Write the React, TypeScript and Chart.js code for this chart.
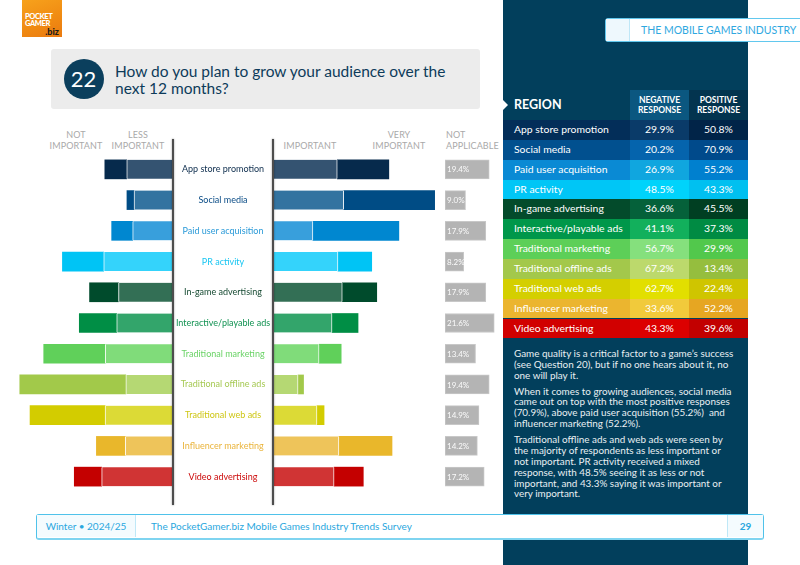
import React, { useEffect, useRef } from "react";
import { Chart, registerables } from "chart.js";

Chart.register(...registerables);

// ---- survey data (percent of respondents) ----
const CATEGORIES = [
  "App store promotion",
  "Social media",
  "Paid user acquisition",
  "PR activity",
  "In-game advertising",
  "Interactive/playable ads",
  "Traditional marketing",
  "Traditional offline ads",
  "Traditional web ads",
  "Influencer marketing",
  "Video advertising",
];
const NOT_IMPORTANT = [9.6, 3.1, 9.2, 18.1, 12.7, 16.4, 27.0, 46.5, 32.9, 12.7, 12.0];
const LESS_IMPORTANT = [20.3, 17.1, 17.7, 30.4, 23.9, 24.7, 29.7, 20.7, 29.8, 20.9, 31.3];
const IMPORTANT = [28.2, 31.0, 17.5, 28.5, 30.4, 25.9, 20.2, 11.0, 19.3, 28.9, 26.8];
const VERY_IMPORTANT = [22.6, 39.9, 37.7, 14.8, 15.1, 11.4, 9.7, 2.4, 3.1, 23.3, 12.8];
const NOT_APPLICABLE = [19.4, 9.0, 17.9, 8.2, 17.9, 21.6, 13.4, 19.4, 14.9, 14.2, 17.2];
const NEGATIVE = [29.9, 20.2, 26.9, 48.5, 36.6, 41.1, 56.7, 67.2, 62.7, 33.6, 43.3];
const POSITIVE = [50.8, 70.9, 55.2, 43.3, 45.5, 37.3, 29.9, 13.4, 22.4, 52.2, 39.6];

// ---- palette per category ----
const DARK = ["#062a4c", "#004c85", "#0087d0", "#00c4f5", "#004b2c", "#008e45", "#60d05a", "#a2c94a", "#d3cc00", "#e9b72b", "#c40000"];
const LIGHT = ["#345371", "#3373a0", "#389fdc", "#34d3fb", "#336f55", "#33a56b", "#80dc7a", "#b5d873", "#dcda36", "#eec45a", "#d03434"];
const LABEL_COLORS = ["#0c2c4c", "#0a4c86", "#2a9ad8", "#18c6f2", "#164a32", "#119252", "#6ad366", "#a6c954", "#cec614", "#eab43c", "#cc0a0a"];
const TABLE_LABEL_BG = ["#032e59", "#01508f", "#0a8ad4", "#00c6f6", "#034b2b", "#00974a", "#5dcf58", "#a3c84b", "#d4cf00", "#ebb52f", "#d10000"];
const TABLE_NEG_BG = ["#0a3b69", "#0564ad", "#10a6df", "#00d3fb", "#05613a", "#12b05c", "#85e07d", "#bcd96c", "#e2df00", "#f1ca3b", "#dc0000"];
const TABLE_POS_BG = ["#012448", "#004a8b", "#0080cf", "#00c0f0", "#003f22", "#008b43", "#52c84c", "#95be3e", "#cfc500", "#e6a622", "#c20000"];

const FONT = 'Lato, "Open Sans", sans-serif';
const PX_PER_PCT = 2.28;

// chart geometry
const ROWS_TOP = 154;
const ROWS_HEIGHT = 338;
const LEFT_W = 173;
const RIGHT_X = 273;
const RIGHT_W = 170;
const NA_X = 445;
const NA_W = 55;
const BAR_THICKNESS = 19;

const naLabels = {
  id: "naLabels",
  afterDatasetsDraw(chart: any) {
    const ctx = chart.ctx;
    const meta = chart.getDatasetMeta(0);
    ctx.save();
    ctx.font = `8px ${FONT}`;
    ctx.fillStyle = "rgba(255,255,255,0.95)";
    ctx.textBaseline = "middle";
    meta.data.forEach((el: any, i: number) => {
      const { base, y } = el.getProps(["base", "y"], true);
      ctx.fillText(`${NOT_APPLICABLE[i].toFixed(1)}%`, Math.min(base, el.x) + 2, y + 0.5);
    });
    ctx.restore();
  },
};

function barChart(canvas: HTMLCanvasElement, datasets: any[], max: number, reverse: boolean, plugins: any[] = []) {
  return new Chart(canvas, {
    type: "bar",
    data: { labels: CATEGORIES, datasets },
    options: {
      indexAxis: "y",
      animation: false,
      responsive: false,
      maintainAspectRatio: false,
      layout: { padding: 0 },
      plugins: { legend: { display: false }, tooltip: { enabled: false } },
      scales: {
        x: { stacked: true, min: 0, max, reverse, display: false },
        y: { stacked: true, display: false },
      },
    },
    plugins,
  } as any);
}

function rowCenter(i: number) {
  return ROWS_TOP + ((i + 0.5) * ROWS_HEIGHT) / CATEGORIES.length;
}

const headStyle: React.CSSProperties = {
  position: "absolute",
  color: "#a9a9a9",
  fontSize: 9,
  lineHeight: "10.5px",
  textAlign: "center",
  letterSpacing: 0.1,
};

const PARAGRAPHS = [
  [
    "Game quality is a critical factor to a game\u2019s success",
    "(see Question 20), but if no one hears about it, no",
    "one will play it.",
  ],
  [
    "When it comes to growing audiences, social media",
    "came out on top with the most positive responses",
    "(70.9%), above paid user acquisition (55.2%)\u00a0 and",
    "influencer marketing (52.2%).",
  ],
  [
    "Traditional offline ads and web ads were seen by",
    "the majority of respondents as less important or",
    "not important. PR activity received a mixed",
    "response, with 48.5% seeing it as less or not",
    "important, and 43.3% saying it was important or",
    "very important.",
  ],
];

export default function App() {
  const leftRef = useRef<HTMLCanvasElement>(null);
  const rightRef = useRef<HTMLCanvasElement>(null);
  const naRef = useRef<HTMLCanvasElement>(null);

  useEffect(() => {
    document.body.style.margin = "0";
    const sep = "rgba(255,255,255,0.85)";
    const left = barChart(
      leftRef.current!,
      [
        { data: LESS_IMPORTANT, backgroundColor: LIGHT, borderColor: sep, borderWidth: { left: 1 }, barThickness: BAR_THICKNESS },
        { data: NOT_IMPORTANT, backgroundColor: DARK, borderWidth: 0, barThickness: BAR_THICKNESS },
      ],
      LEFT_W / PX_PER_PCT,
      true
    );
    const right = barChart(
      rightRef.current!,
      [
        { data: IMPORTANT, backgroundColor: LIGHT, borderColor: sep, borderWidth: { right: 1 }, barThickness: BAR_THICKNESS },
        { data: VERY_IMPORTANT, backgroundColor: DARK, borderWidth: 0, barThickness: BAR_THICKNESS },
      ],
      RIGHT_W / PX_PER_PCT,
      false
    );
    const na = barChart(
      naRef.current!,
      [{ data: NOT_APPLICABLE, backgroundColor: "#b4b4b4", borderColor: "#c8c8c8", borderWidth: 1, borderSkipped: false, barThickness: BAR_THICKNESS }],
      NA_W / PX_PER_PCT,
      false,
      [naLabels]
    );
    return () => {
      left.destroy();
      right.destroy();
      na.destroy();
    };
  }, []);

  const tableTop = 120;
  const rowH = 19.85;

  return (
    <div
      style={{
        position: "fixed",
        left: 0,
        top: 0,
        width: 800,
        height: 565,
        overflow: "hidden",
        background: "#ffffff",
        fontFamily: FONT,
      }}
    >
      {/* dark side panel */}
      <div style={{ position: "absolute", left: 503, top: 0, width: 245, height: 565, background: "#023f5c" }} />

      {/* logo */}
      <div
        style={{
          position: "absolute",
          left: 22,
          top: 0,
          width: 40,
          height: 37,
          background: "linear-gradient(160deg, #f7a21c 0%, #f08a12 60%, #ea7a10 100%)",
          color: "#fff",
          fontWeight: 900,
          fontSize: 7.5,
          lineHeight: "7.5px",
          letterSpacing: -0.4,
        }}
      >
        <div style={{ position: "absolute", left: 3, top: 13 }}>POCKET</div>
        <div style={{ position: "absolute", left: 3, top: 20 }}>GAMER</div>
        <div style={{ position: "absolute", right: 3, top: 27, color: "#1a1a1a", fontSize: 9, lineHeight: "9px", letterSpacing: 0 }}>.biz</div>
      </div>

      {/* section tab */}
      <div
        style={{
          position: "absolute",
          left: 605,
          top: 18,
          width: 210,
          height: 22,
          border: "1.5px solid #62c8ee",
          borderRadius: 3,
          background: "#fff",
        }}
      >
        <div style={{ position: "absolute", left: 0, top: 0, width: 23, height: 22, background: "#eef8fd", borderRight: "1px solid #bfe7f7" }} />
        <div style={{ position: "absolute", left: 35, top: 0, lineHeight: "22px", fontSize: 10.5, color: "#2fa8df" }}>
          THE MOBILE GAMES INDUSTRY
        </div>
      </div>

      {/* question title */}
      <div style={{ position: "absolute", left: 51, top: 49, width: 429, height: 60, background: "#ececec", borderRadius: 3 }}>
        <div
          style={{
            position: "absolute",
            left: 12.5,
            top: 10,
            width: 40,
            height: 40,
            borderRadius: "50%",
            background: "#0b3f5d",
            color: "#fff",
            fontSize: 22,
            lineHeight: "40px",
            textAlign: "center",
          }}
        >
          22
        </div>
        <div style={{ position: "absolute", left: 64, top: 14, color: "#0d3b5a", fontSize: 15.5, lineHeight: "16.5px" }}>
          How do you plan to grow your audience over the
          <br />
          next 12 months?
        </div>
      </div>

      {/* column headings */}
      <div style={{ ...headStyle, left: 46, top: 130, width: 60 }}>NOT<br />IMPORTANT</div>
      <div style={{ ...headStyle, left: 108, top: 130, width: 60 }}>LESS<br />IMPORTANT</div>
      <div style={{ ...headStyle, left: 280, top: 130, width: 60 }}><br />IMPORTANT</div>
      <div style={{ ...headStyle, left: 369, top: 130, width: 60 }}>VERY<br />IMPORTANT</div>
      <div style={{ ...headStyle, left: 446, top: 130, textAlign: "left" }}>NOT<br />APPLICABLE</div>

      {/* bars */}
      <canvas ref={leftRef} width={LEFT_W} height={ROWS_HEIGHT} style={{ position: "absolute", left: 0, top: ROWS_TOP, width: LEFT_W, height: ROWS_HEIGHT }} />
      <canvas ref={rightRef} width={RIGHT_W} height={ROWS_HEIGHT} style={{ position: "absolute", left: RIGHT_X, top: ROWS_TOP, width: RIGHT_W, height: ROWS_HEIGHT }} />
      <canvas ref={naRef} width={NA_W} height={ROWS_HEIGHT} style={{ position: "absolute", left: NA_X, top: ROWS_TOP, width: NA_W, height: ROWS_HEIGHT }} />

      {/* divider rails around the category names */}
      <div style={{ position: "absolute", left: 172, top: 139, width: 2, height: 366, background: "#4d4d4d", boxShadow: "0 0 2px rgba(0,0,0,0.45)" }} />
      <div style={{ position: "absolute", left: 272, top: 139, width: 2, height: 366, background: "#4d4d4d", boxShadow: "0 0 2px rgba(0,0,0,0.45)" }} />

      {/* category names */}
      {CATEGORIES.map((c, i) => (
        <div
          key={c}
          style={{
            position: "absolute",
            left: 174,
            width: 98,
            top: rowCenter(i) - 7,
            height: 14,
            lineHeight: "14px",
            textAlign: "center",
            fontSize: 9,
            color: LABEL_COLORS[i],
            whiteSpace: "nowrap",
          }}
        >
          {c}
        </div>
      ))}

      {/* summary table */}
      <div style={{ position: "absolute", left: 630, top: 90, width: 59, height: 30, background: "#0b5780" }} />
      <div style={{ position: "absolute", left: 689, top: 90, width: 59, height: 30, background: "#03344f" }} />
      <div
        style={{
          position: "absolute",
          left: 503,
          top: 100,
          width: 0,
          height: 0,
          borderTop: "5px solid transparent",
          borderBottom: "5px solid transparent",
          borderLeft: "5px solid #ffffff",
        }}
      />
      <div style={{ position: "absolute", left: 514, top: 90, lineHeight: "30px", color: "#fff", fontSize: 12.5, fontWeight: 700 }}>REGION</div>
      <div style={{ position: "absolute", left: 630, top: 95, width: 59, textAlign: "center", color: "#fff", fontSize: 8.5, lineHeight: "10px", fontWeight: 700 }}>
        NEGATIVE<br />RESPONSE
      </div>
      <div style={{ position: "absolute", left: 689, top: 95, width: 59, textAlign: "center", color: "#fff", fontSize: 8.5, lineHeight: "10px", fontWeight: 700 }}>
        POSITIVE<br />RESPONSE
      </div>
      {CATEGORIES.map((c, i) => {
        const top = tableTop + i * rowH;
        const cell: React.CSSProperties = {
          position: "absolute",
          top,
          height: rowH,
          lineHeight: `${rowH}px`,
          color: "#fff",
          fontSize: 10.4,
        };
        return (
          <React.Fragment key={c}>
            <div style={{ ...cell, left: 503, width: 127, background: TABLE_LABEL_BG[i], paddingLeft: 11, boxSizing: "border-box" }}>{c}</div>
            <div style={{ ...cell, left: 630, width: 59, background: TABLE_NEG_BG[i], textAlign: "center" }}>{NEGATIVE[i].toFixed(1)}%</div>
            <div style={{ ...cell, left: 689, width: 59, background: TABLE_POS_BG[i], textAlign: "center" }}>{POSITIVE[i].toFixed(1)}%</div>
          </React.Fragment>
        );
      })}

      {/* commentary */}
      <div style={{ position: "absolute", left: 514, top: 348, width: 232, color: "#e9eff3", fontSize: 9.9, lineHeight: "10.9px" }}>
        {PARAGRAPHS.map((p, k) => (
          <div key={k} style={{ marginBottom: 4.8 }}>
            {p.map((line, j) => (
              <div key={j} style={{ whiteSpace: "nowrap" }}>{line}</div>
            ))}
          </div>
        ))}
      </div>

      {/* footer */}
      <div
        style={{
          position: "absolute",
          left: 36,
          top: 514,
          width: 728,
          height: 26,
          boxSizing: "border-box",
          border: "1.5px solid #4fc2ea",
          borderBottom: "2.5px solid #7fd4f0",
          borderRadius: 3,
          background: "#fff",
          color: "#2aa7de",
          fontSize: 10,
        }}
      >
        <div style={{ position: "absolute", left: 0, top: 0, width: 98, height: 22, background: "#f4fbfe", borderRight: "1px solid #bfe8f7", textAlign: "center", lineHeight: "22px" }}>
          Winter &bull; 2024/25
        </div>
        <div style={{ position: "absolute", left: 114, top: 0, lineHeight: "22px" }}>The PocketGamer.biz Mobile Games Industry Trends Survey</div>
        <div style={{ position: "absolute", right: 0, top: 0, width: 35, height: 22, background: "#f4fbfe", borderLeft: "1px solid #bfe8f7", textAlign: "center", lineHeight: "22px", fontWeight: 700 }}>
          29
        </div>
      </div>
    </div>
  );
}
